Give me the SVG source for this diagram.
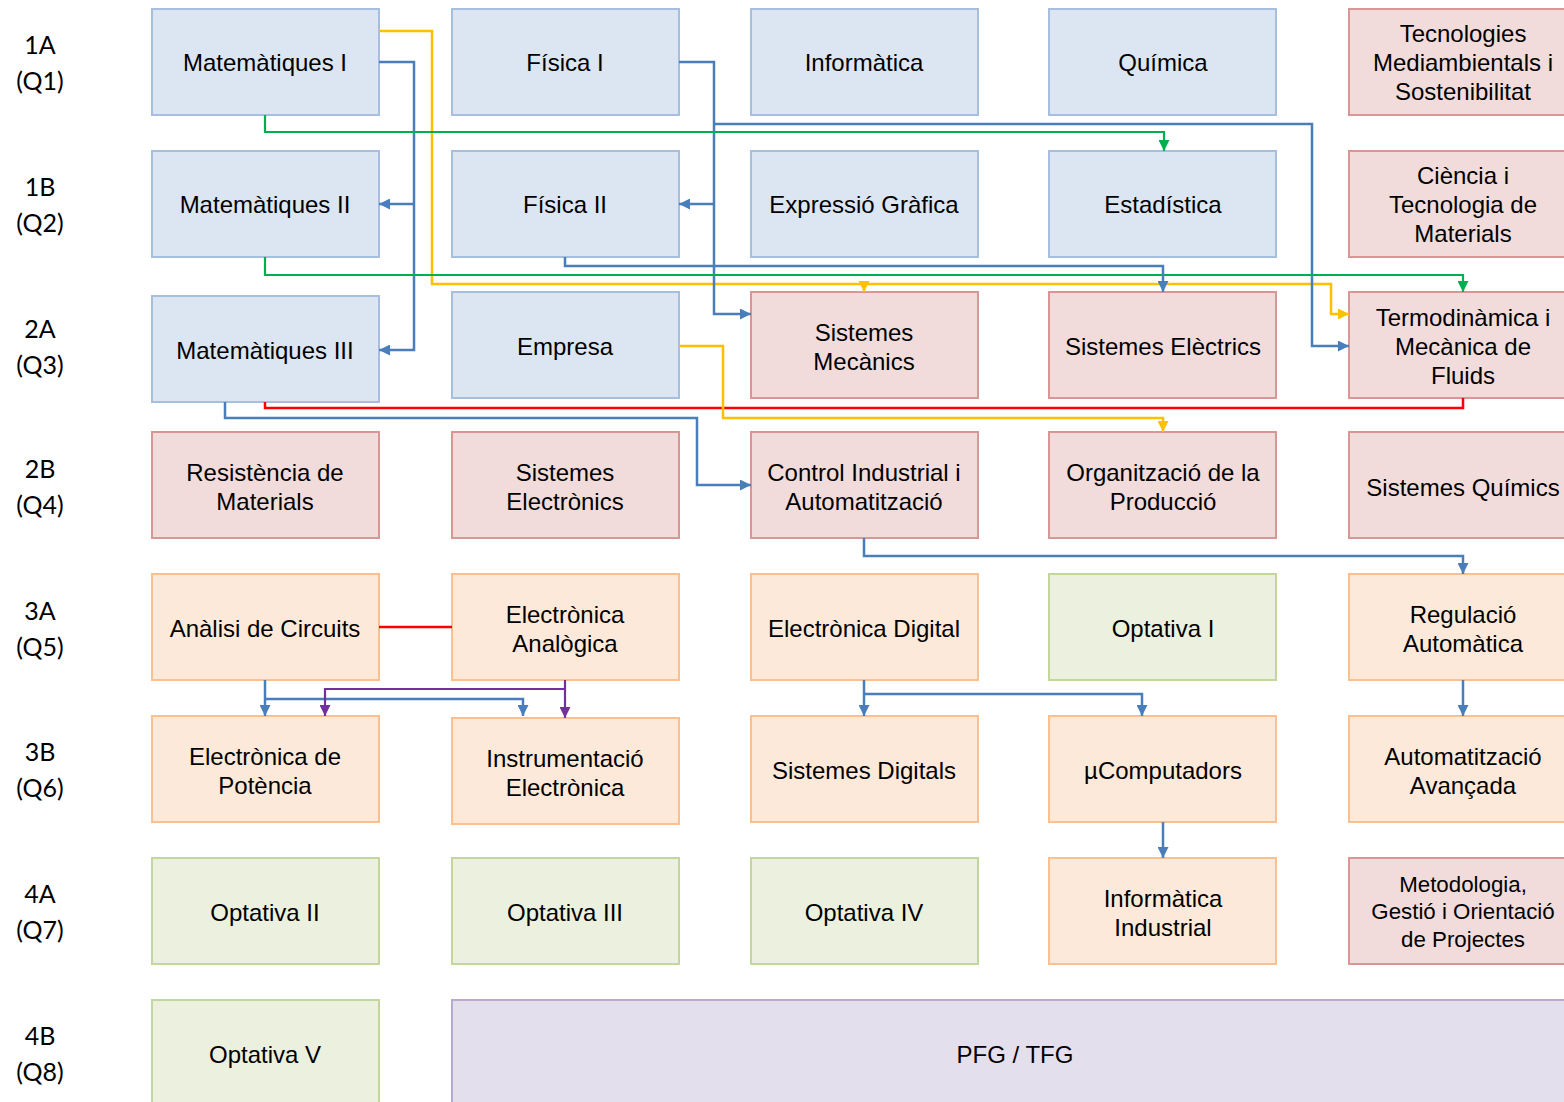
<svg xmlns="http://www.w3.org/2000/svg" width="1564" height="1102" viewBox="0 0 1564 1102">
<style>
.n{stroke-width:2}
.b{fill:#DCE6F2;stroke:#A7BFDE}
.p{fill:#F2DCDB;stroke:#DA9694}
.o{fill:#FDE9D9;stroke:#FAC090}
.g{fill:#EBF1DE;stroke:#C3D69B}
.v{fill:#E4DFEC;stroke:#B9A9CF}
.t{font-family:"Liberation Sans",Arial,sans-serif;font-size:24px;fill:#000;text-anchor:middle}
.s{font-size:22.3px}
.l{font-family:Lato,"Liberation Sans",sans-serif;font-size:25px;fill:#000;text-anchor:middle}
.c{fill:none;stroke-width:2.5;stroke-linejoin:miter}
.cb{stroke:#4A7EBB}
.cy{stroke:#FFC000}
.cg{stroke:#00B050;stroke-width:2.2}
.cr{stroke:#FF0000}
.cp{stroke:#7030A0;stroke-width:2.2}
</style>
<defs>
<marker id="ab" markerUnits="userSpaceOnUse" markerWidth="11" markerHeight="11" refX="10" refY="5" orient="auto" viewBox="0 0 10 10"><path d="M0,0L10,5L0,10z" fill="#4A7EBB"/></marker>
<marker id="ay" markerUnits="userSpaceOnUse" markerWidth="11" markerHeight="11" refX="10" refY="5" orient="auto" viewBox="0 0 10 10"><path d="M0,0L10,5L0,10z" fill="#FFC000"/></marker>
<marker id="ag" markerUnits="userSpaceOnUse" markerWidth="11" markerHeight="11" refX="10" refY="5" orient="auto" viewBox="0 0 10 10"><path d="M0,0L10,5L0,10z" fill="#00B050"/></marker>
<marker id="ap" markerUnits="userSpaceOnUse" markerWidth="11" markerHeight="11" refX="10" refY="5" orient="auto" viewBox="0 0 10 10"><path d="M0,0L10,5L0,10z" fill="#7030A0"/></marker>
</defs>
<rect width="1564" height="1102" fill="#fff"/>
<g id="labels">
<text class="l" x="40" y="54">1A</text><text class="l" x="40" y="90">(Q1)</text>
<text class="l" x="40" y="196">1B</text><text class="l" x="40" y="232">(Q2)</text>
<text class="l" x="40" y="338">2A</text><text class="l" x="40" y="374">(Q3)</text>
<text class="l" x="40" y="478">2B</text><text class="l" x="40" y="514">(Q4)</text>
<text class="l" x="40" y="620">3A</text><text class="l" x="40" y="656">(Q5)</text>
<text class="l" x="40" y="761">3B</text><text class="l" x="40" y="797">(Q6)</text>
<text class="l" x="40" y="903">4A</text><text class="l" x="40" y="939">(Q7)</text>
<text class="l" x="40" y="1045">4B</text><text class="l" x="40" y="1081">(Q8)</text>
</g>
<g id="n-mat1"><rect class="n b" x="152" y="9" width="227" height="106"/><text class="t" x="265" y="71">Matemàtiques I</text></g>
<g id="n-fis1"><rect class="n b" x="452" y="9" width="227" height="106"/><text class="t" x="565" y="71">Física I</text></g>
<g id="n-inf"><rect class="n b" x="751" y="9" width="227" height="106"/><text class="t" x="864" y="71">Informàtica</text></g>
<g id="n-qui"><rect class="n b" x="1049" y="9" width="227" height="106"/><text class="t" x="1163" y="71">Química</text></g>
<g id="n-tms"><rect class="n p" x="1349" y="9" width="230" height="106"/><text class="t" x="1463" y="42">Tecnologies</text><text class="t" x="1463" y="71">Mediambientals i</text><text class="t" x="1463" y="100">Sostenibilitat</text></g>

<g id="n-mat2"><rect class="n b" x="152" y="151" width="227" height="106"/><text class="t" x="265" y="213">Matemàtiques II</text></g>
<g id="n-fis2"><rect class="n b" x="452" y="151" width="227" height="106"/><text class="t" x="565" y="213">Física II</text></g>
<g id="n-exp"><rect class="n b" x="751" y="151" width="227" height="106"/><text class="t" x="864" y="213">Expressió Gràfica</text></g>
<g id="n-est"><rect class="n b" x="1049" y="151" width="227" height="106"/><text class="t" x="1163" y="213">Estadística</text></g>
<g id="n-ctm"><rect class="n p" x="1349" y="151" width="230" height="106"/><text class="t" x="1463" y="184">Ciència i</text><text class="t" x="1463" y="213">Tecnologia de</text><text class="t" x="1463" y="242">Materials</text></g>

<g id="n-mat3"><rect class="n b" x="152" y="296" width="227" height="106"/><text class="t" x="265" y="359">Matemàtiques III</text></g>
<g id="n-emp"><rect class="n b" x="452" y="292" width="227" height="106"/><text class="t" x="565" y="355">Empresa</text></g>
<g id="n-smec"><rect class="n p" x="751" y="292" width="227" height="106"/><text class="t" x="864" y="341">Sistemes</text><text class="t" x="864" y="370">Mecànics</text></g>
<g id="n-sele"><rect class="n p" x="1049" y="292" width="227" height="106"/><text class="t" x="1163" y="355">Sistemes Elèctrics</text></g>
<g id="n-term"><rect class="n p" x="1349" y="292" width="230" height="106"/><text class="t" x="1463" y="326">Termodinàmica i</text><text class="t" x="1463" y="355">Mecànica de</text><text class="t" x="1463" y="384">Fluids</text></g>

<g id="n-res"><rect class="n p" x="152" y="432" width="227" height="106"/><text class="t" x="265" y="481">Resistència de</text><text class="t" x="265" y="510">Materials</text></g>
<g id="n-sel"><rect class="n p" x="452" y="432" width="227" height="106"/><text class="t" x="565" y="481">Sistemes</text><text class="t" x="565" y="510">Electrònics</text></g>
<g id="n-cia"><rect class="n p" x="751" y="432" width="227" height="106"/><text class="t" x="864" y="481">Control Industrial i</text><text class="t" x="864" y="510">Automatització</text></g>
<g id="n-org"><rect class="n p" x="1049" y="432" width="227" height="106"/><text class="t" x="1163" y="481">Organització de la</text><text class="t" x="1163" y="510">Producció</text></g>
<g id="n-squi"><rect class="n p" x="1349" y="432" width="230" height="106"/><text class="t" x="1463" y="496">Sistemes Químics</text></g>

<g id="n-anc"><rect class="n o" x="152" y="574" width="227" height="106"/><text class="t" x="265" y="637">Anàlisi de Circuits</text></g>
<g id="n-ean"><rect class="n o" x="452" y="574" width="227" height="106"/><text class="t" x="565" y="623">Electrònica</text><text class="t" x="565" y="652">Analògica</text></g>
<g id="n-edi"><rect class="n o" x="751" y="574" width="227" height="106"/><text class="t" x="864" y="637">Electrònica Digital</text></g>
<g id="n-op1"><rect class="n g" x="1049" y="574" width="227" height="106"/><text class="t" x="1163" y="637">Optativa I</text></g>
<g id="n-reg"><rect class="n o" x="1349" y="574" width="230" height="106"/><text class="t" x="1463" y="623">Regulació</text><text class="t" x="1463" y="652">Automàtica</text></g>

<g id="n-epo"><rect class="n o" x="152" y="716" width="227" height="106"/><text class="t" x="265" y="765">Electrònica de</text><text class="t" x="265" y="794">Potència</text></g>
<g id="n-ins"><rect class="n o" x="452" y="718" width="227" height="106"/><text class="t" x="565" y="767">Instrumentació</text><text class="t" x="565" y="796">Electrònica</text></g>
<g id="n-sdi"><rect class="n o" x="751" y="716" width="227" height="106"/><text class="t" x="864" y="779">Sistemes Digitals</text></g>
<g id="n-ucp"><rect class="n o" x="1049" y="716" width="227" height="106"/><text class="t" x="1163" y="779">µComputadors</text></g>
<g id="n-aua"><rect class="n o" x="1349" y="716" width="230" height="106"/><text class="t" x="1463" y="765">Automatització</text><text class="t" x="1463" y="794">Avançada</text></g>

<g id="n-op2"><rect class="n g" x="152" y="858" width="227" height="106"/><text class="t" x="265" y="921">Optativa II</text></g>
<g id="n-op3"><rect class="n g" x="452" y="858" width="227" height="106"/><text class="t" x="565" y="921">Optativa III</text></g>
<g id="n-op4"><rect class="n g" x="751" y="858" width="227" height="106"/><text class="t" x="864" y="921">Optativa IV</text></g>
<g id="n-iin"><rect class="n o" x="1049" y="858" width="227" height="106"/><text class="t" x="1163" y="907">Informàtica</text><text class="t" x="1163" y="936">Industrial</text></g>
<g id="n-met"><rect class="n p" x="1349" y="858" width="230" height="106"/><text class="t s" x="1463" y="892">Metodologia,</text><text class="t s" x="1463" y="919">Gestió i Orientació</text><text class="t s" x="1463" y="947">de Projectes</text></g>

<g id="n-op5"><rect class="n g" x="152" y="1000" width="227" height="110"/><text class="t" x="265" y="1063">Optativa V</text></g>
<g id="n-pfg"><rect class="n v" x="452" y="1000" width="1130" height="110"/><text class="t" x="1015" y="1063">PFG / TFG</text></g>

<g id="connectors">
<path class="c cy" d="M379,31H432V284H1331V314H1349" marker-end="url(#ay)"/>
<path class="c cy" d="M864,284V292" marker-end="url(#ay)"/>
<path class="c cb" d="M379,62H414V350H379" marker-end="url(#ab)"/>
<path class="c cb" d="M414,204H379" marker-end="url(#ab)"/>
<path class="c cb" d="M679,62H714V314H751" marker-end="url(#ab)"/>
<path class="c cb" d="M714,204H679" marker-end="url(#ab)"/>
<path class="c cb" d="M714,124H1312V346H1349" marker-end="url(#ab)"/>
<path class="c cg" d="M265,115V132H1164V151" marker-end="url(#ag)"/>
<path class="c cg" d="M265,257V275H1463V292" marker-end="url(#ag)"/>
<path class="c cb" d="M565,257V266H1163V292" marker-end="url(#ab)"/>
<path class="c cr" d="M265,402V408H1463V398"/>
<path class="c cb" d="M225,402V418H697V485H751" marker-end="url(#ab)"/>
<path class="c cy" d="M679,346H723V418H1163V432" marker-end="url(#ay)"/>
<path class="c cb" d="M864,538V556H1463V574" marker-end="url(#ab)"/>
<path class="c cr" d="M379,627H452"/>
<path class="c cb" d="M265,680V716" marker-end="url(#ab)"/>
<path class="c cb" d="M265,699H523V716" marker-end="url(#ab)"/>
<path class="c cp" d="M565,680V718" marker-end="url(#ap)"/>
<path class="c cp" d="M565,689H325V716" marker-end="url(#ap)"/>
<path class="c cb" d="M864,680V716" marker-end="url(#ab)"/>
<path class="c cb" d="M864,694H1142V716" marker-end="url(#ab)"/>
<path class="c cb" d="M1463,680V716" marker-end="url(#ab)"/>
<path class="c cb" d="M1163,822V858" marker-end="url(#ab)"/>
</g>
</svg>
